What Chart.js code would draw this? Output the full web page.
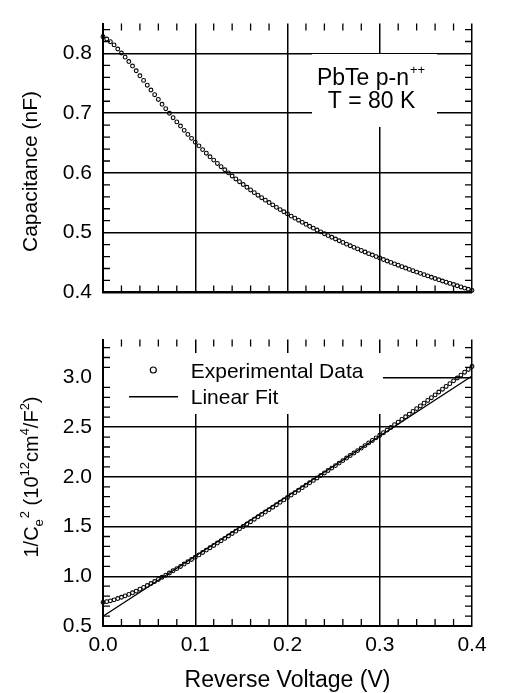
<!DOCTYPE html>
<html><head><meta charset="utf-8">
<script src="https://cdn.jsdelivr.net/npm/chart.js@4/dist/chart.umd.min.js"></script>
<style>
html,body{margin:0;padding:0;background:#fff;}
#wrap{position:relative;width:505px;height:693px;overflow:hidden;background:#fff;}
canvas{position:absolute;left:0;}
#c1{top:0;}
#c2{top:316px;}
</style></head><body>
<div id="wrap"><canvas id="c1" width="505" height="316"></canvas><canvas id="c2" width="505" height="377"></canvas></div>
<script>
// ---------------- data ----------------
const voltage = [
0,0.004,0.008,0.012,0.016,0.02,0.024,0.028,0.032,0.036,
0.04,0.044,0.048,0.052,0.056,0.06,0.064,0.068,0.072,0.076,
0.08,0.084,0.088,0.092,0.096,0.1,0.104,0.108,0.112,0.116,
0.12,0.124,0.128,0.132,0.136,0.14,0.144,0.148,0.152,0.156,
0.16,0.164,0.168,0.172,0.176,0.18,0.184,0.188,0.192,0.196,
0.2,0.204,0.208,0.212,0.216,0.22,0.224,0.228,0.232,0.236,
0.24,0.244,0.248,0.252,0.256,0.26,0.264,0.268,0.272,0.276,
0.28,0.284,0.288,0.292,0.296,0.3,0.304,0.308,0.312,0.316,
0.32,0.324,0.328,0.332,0.336,0.34,0.344,0.348,0.352,0.356,
0.36,0.364,0.368,0.372,0.376,0.38,0.384,0.388,0.392,0.396,
0.4];
const capacitance = [
0.828,0.8241,0.8197,0.8143,0.8075,0.8008,0.7938,0.7865,0.7789,0.7711,
0.7626,0.7549,0.7469,0.7388,0.731,0.723,0.7149,0.7075,0.6999,0.6925,
0.6854,0.6785,0.6713,0.6645,0.6579,0.6515,0.6453,0.6391,0.633,0.627,
0.6215,0.6159,0.6104,0.6053,0.6001,0.5949,0.5899,0.5853,0.5806,0.576,
0.5715,0.567,0.5627,0.5585,0.5544,0.5504,0.5465,0.5424,0.5386,0.535,
0.5314,0.5277,0.5243,0.5209,0.5173,0.514,0.5107,0.5076,0.5044,0.5014,
0.4982,0.4951,0.4923,0.4894,0.4865,0.4837,0.4808,0.4781,0.4754,0.4728,
0.4702,0.4676,0.4649,0.4625,0.4599,0.4575,0.455,0.4526,0.4502,0.4478,
0.4455,0.4431,0.4408,0.4385,0.4363,0.434,0.4319,0.4297,0.4276,0.4254,
0.4233,0.4211,0.4191,0.4171,0.4151,0.4131,0.4111,0.4091,0.4072,0.4053,
0.4034];
const invCe2 = [
0.738,0.745,0.753,0.763,0.776,0.789,0.803,0.818,0.834,0.851,
0.87,0.888,0.907,0.927,0.947,0.968,0.99,1.011,1.033,1.055,
1.077,1.099,1.123,1.146,1.169,1.192,1.215,1.239,1.263,1.287,
1.31,1.334,1.358,1.381,1.405,1.43,1.454,1.477,1.501,1.525,
1.549,1.574,1.598,1.622,1.646,1.67,1.694,1.72,1.744,1.768,
1.792,1.817,1.841,1.865,1.891,1.915,1.94,1.964,1.989,2.013,
2.039,2.064,2.088,2.113,2.138,2.163,2.189,2.214,2.239,2.264,
2.289,2.314,2.341,2.366,2.392,2.418,2.444,2.47,2.496,2.524,
2.55,2.577,2.604,2.631,2.658,2.686,2.713,2.741,2.768,2.796,
2.824,2.853,2.881,2.909,2.937,2.965,2.994,3.023,3.052,3.08,
3.109];
const fitVoltage = [0, 0.4];
const fitInvCe2 = [0.598, 3.014];

const xTicks = [0, 0.1, 0.2, 0.3, 0.4];
const xMinorTicks = [0.02,0.04,0.06,0.08,0.12,0.14,0.16,0.18,0.22,0.24,0.26,0.28,0.32,0.34,0.36,0.38];
const capTicks = [0.4, 0.5, 0.6, 0.7, 0.8];
const capMinorTicks = [0.42,0.44,0.46,0.48,0.52,0.54,0.56,0.58,0.62,0.64,0.66,0.68,0.72,0.74,0.76,0.78,0.82,0.84];
const invTicks = [0.5, 1.0, 1.5, 2.0, 2.5, 3.0];
const invMinorTicks = [0.6,0.7,0.8,0.9,1.1,1.2,1.3,1.4,1.6,1.7,1.8,1.9,2.1,2.2,2.3,2.4,2.6,2.7,2.8,2.9,3.1,3.2,3.3];

// ---------------- helpers ----------------
const FONT = "'Liberation Sans', Arial, Helvetica, sans-serif";
Chart.defaults.font.family = FONT;
Chart.defaults.color = '#000';

function drawRich(ctx, parts, cx, cy, rot) {
  ctx.save();
  ctx.translate(cx, cy);
  if (rot) ctx.rotate(rot);
  let w = 0;
  for (const p of parts) { ctx.font = p.size + 'px ' + FONT; w += ctx.measureText(p.t).width + (p.gap || 0); }
  let x = -w / 2;
  ctx.textBaseline = 'alphabetic'; ctx.textAlign = 'left'; ctx.fillStyle = '#000';
  for (const p of parts) {
    x += p.gap || 0;
    ctx.font = p.size + 'px ' + FONT;
    ctx.fillText(p.t, x, p.dy || 0);
    x += ctx.measureText(p.t).width;
  }
  ctx.restore();
}

function minorTickPlugin(xMinor, yMinor) {
  return {
    id: 'inTicks',
    afterDatasetsDraw(chart) {
      const ctx = chart.ctx, a = chart.chartArea, xs = chart.scales.x, ys = chart.scales.y;
      const L = 7;
      ctx.save();
      ctx.strokeStyle = '#000'; ctx.lineWidth = 1.3;
      ctx.beginPath();
      for (const v of xMinor) {
        const p = xs.getPixelForValue(v);
        ctx.moveTo(p, a.bottom); ctx.lineTo(p, a.bottom - L);
        ctx.moveTo(p, a.top); ctx.lineTo(p, a.top + L);
      }
      for (const v of yMinor) {
        const p = ys.getPixelForValue(v);
        ctx.moveTo(a.left, p); ctx.lineTo(a.left + L, p);
        ctx.moveTo(a.right, p); ctx.lineTo(a.right - L, p);
      }
      ctx.stroke();
      ctx.restore();
    }
  };
}

function baseScales(yMin, yMax, yTicks, xHeight, showX) {
  return {
    x: {
      type: 'linear', min: 0, max: 0.4,
      afterBuildTicks: s => { s.ticks = xTicks.map(v => ({ value: v })); },
      afterFit: s => { s.height = xHeight; },
      grid: { color: '#000', lineWidth: 1.5, drawTicks: false },
      border: { color: '#000', width: 2 },
      ticks: { display: showX, padding: 7, maxRotation: 0, font: { size: 21 }, color: '#000',
               callback: v => Number(v).toFixed(1) }
    },
    y: {
      type: 'linear', min: yMin, max: yMax,
      afterBuildTicks: s => { s.ticks = yTicks.map(v => ({ value: v })); },
      afterFit: s => { s.width = 103; },
      grid: { color: '#000', lineWidth: 1.5, drawTicks: false },
      border: { color: '#000', width: 2 },
      ticks: { padding: 11, font: { size: 21 }, color: '#000',
               callback: v => Number(v).toFixed(1) }
    }
  };
}

const pointStyle = {
  showLine: false, pointStyle: 'circle', pointRadius: 1.9, pointBorderWidth: 1.1,
  pointBorderColor: '#000', pointBackgroundColor: 'rgba(0,0,0,0)', clip: false
};

// ---------------- top chart ----------------
const topDecor = {
  id: 'topDecor',
  beforeDatasetsDraw(chart) {
    const ctx = chart.ctx;
    ctx.save(); ctx.fillStyle = '#fff'; ctx.fillRect(312, 54, 125, 73); ctx.restore();
  },
  afterDatasetsDraw(chart) {
    const ctx = chart.ctx;
    drawRich(ctx, [{ t: 'Capacitance (nF)', size: 21 }], 37, 171.5, -Math.PI / 2);
    drawRich(ctx, [{ t: 'PbTe p-n', size: 23 }, { t: '++', size: 13, dy: -11.5, gap: 1 }], 371, 85);
    drawRich(ctx, [{ t: 'T = 80 K', size: 23 }], 371.5, 108.3);
  }
};

new Chart(document.getElementById('c1'), {
  type: 'scatter',
  data: { datasets: [Object.assign({ data: voltage.map((v, i) => ({ x: v, y: capacitance[i] })) }, pointStyle)] },
  options: {
    responsive: false, animation: false, events: [],
    layout: { autoPadding: false, padding: { left: 0, right: 33, top: 5, bottom: 0 } },
    plugins: { legend: { display: false }, tooltip: { enabled: false } },
    scales: baseScales(0.4, 0.85, capTicks, 9, false)
  },
  plugins: [topDecor, minorTickPlugin(xMinorTicks, capMinorTicks)]
});

// ---------------- bottom chart ----------------
const botDecor = {
  id: 'botDecor',
  beforeDatasetsDraw(chart) {
    const ctx = chart.ctx;
    ctx.save(); ctx.fillStyle = '#fff'; ctx.fillRect(104, 37, 279, 61); ctx.restore();
  },
  afterDatasetsDraw(chart) {
    const ctx = chart.ctx;
    // legend
    ctx.save();
    ctx.strokeStyle = '#000'; ctx.lineWidth = 1.2;
    ctx.beginPath(); ctx.arc(153.3, 54, 3, 0, Math.PI * 2); ctx.stroke();
    ctx.lineWidth = 1.4;
    ctx.beginPath(); ctx.moveTo(129, 80.7); ctx.lineTo(178, 80.7); ctx.stroke();
    ctx.fillStyle = '#000'; ctx.font = '21px ' + FONT; ctx.textAlign = 'left'; ctx.textBaseline = 'alphabetic';
    ctx.fillText('Experimental Data', 190.7, 62.3);
    ctx.fillText('Linear Fit', 190.7, 88);
    ctx.restore();
    // axis titles
    drawRich(ctx, [
      { t: '1/C', size: 20 }, { t: 'e', size: 13, dy: 5 }, { t: '2', size: 13, dy: -9, gap: 1 },
      { t: ' (10', size: 20 }, { t: '12', size: 13, dy: -9 }, { t: 'cm', size: 20 },
      { t: '4', size: 13, dy: -9 }, { t: '/F', size: 20 }, { t: '2', size: 13, dy: -9 }, { t: ')', size: 20 }
    ], 38, 161, -Math.PI / 2);
    drawRich(ctx, [{ t: 'Reverse Voltage (V)', size: 23 }], 287.5, 370.7);
  }
};

new Chart(document.getElementById('c2'), {
  type: 'scatter',
  data: { datasets: [
    Object.assign({ data: voltage.map((v, i) => ({ x: v, y: invCe2[i] })) }, pointStyle),
    { data: fitVoltage.map((v, i) => ({ x: v, y: fitInvCe2[i] })), showLine: true, pointRadius: 0,
      borderColor: '#000', borderWidth: 1.4, fill: false }
  ] },
  options: {
    responsive: false, animation: false, events: [],
    layout: { autoPadding: false, padding: { left: 0, right: 33, top: 8, bottom: 0 } },
    plugins: { legend: { display: false }, tooltip: { enabled: false } },
    scales: baseScales(0.5, 3.38, invTicks, 67, true)
  },
  plugins: [botDecor, minorTickPlugin(xMinorTicks, invMinorTicks)]
});
</script>
</body></html>
